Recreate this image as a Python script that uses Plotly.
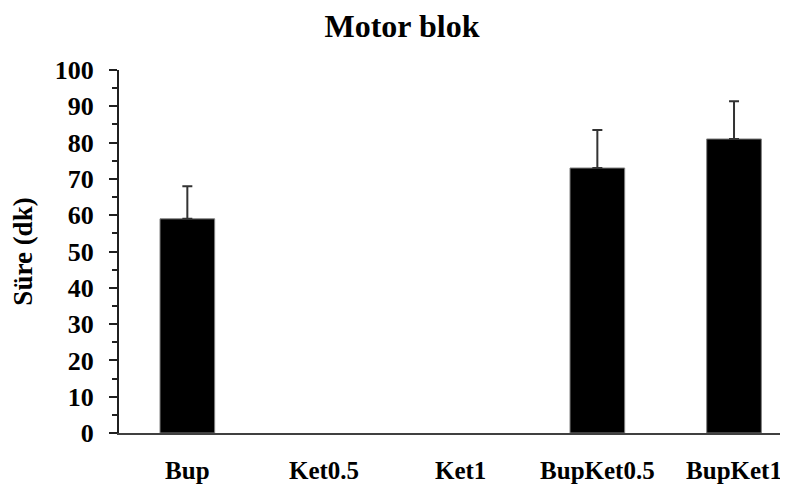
import plotly.graph_objects as go

categories = ["Bup", "Ket0.5", "Ket1", "BupKet0.5", "BupKet1"]
values = [59, None, None, 73, 81]
errors = [9, None, None, 10.5, 10.4]
y_ticks = [0, 10, 20, 30, 40, 50, 60, 70, 80, 90, 100]

font = "Liberation Serif, Times New Roman, serif"

fig = go.Figure(go.Bar(
    x=categories,
    y=values,
    width=0.40,
    marker=dict(color="black", line=dict(color="#808080", width=1)),
    error_y=dict(type="data", array=errors, visible=True, symmetric=False,
                 arrayminus=[0]*5, color="#333333", thickness=2, width=5),
))

# page body has an 8px default margin, so the figure is sized to fill the rest
fig.update_layout(
    width=780, height=482,
    margin=dict(l=111, r=0, t=62, b=57, autoexpand=False),
    paper_bgcolor="white", plot_bgcolor="white",
    showlegend=False,
    title=dict(text="<b>Motor blok</b>", x=0.423, xref="paper", xanchor="center",
               y=0.963, yanchor="middle",
               font=dict(family=font, size=32, color="black")),
    font=dict(family=font, color="black"),
)
fig.update_xaxes(
    range=[-0.5, 4.395],
    showline=True, linecolor="#404040", linewidth=2,
    ticks="", showgrid=False, automargin=False,
    tickfont=dict(family=font, size=25, color="black"),
    ticklabelstandoff=14,
    tickvals=categories,
    ticktext=["<b>%s</b>" % c for c in categories],
)
fig.update_yaxes(
    range=[0, 100],
    tickvals=y_ticks,
    ticktext=["<b>%d</b>" % v for v in y_ticks],
    showline=True, linecolor="#202020", linewidth=2,
    ticks="outside", ticklen=8, tickwidth=2, tickcolor="#202020",
    minor=dict(ticks="outside", ticklen=5, tickwidth=2, tickcolor="#202020", dtick=5, showgrid=False),
    showgrid=False, zeroline=False, automargin=False,
    tickfont=dict(family=font, size=26, color="black"),
    ticklabelstandoff=10,
    title=dict(text="<b>Süre (dk)</b>", font=dict(family=font, size=27, color="black"), standoff=24),
)

fig.write_html("out.html")
